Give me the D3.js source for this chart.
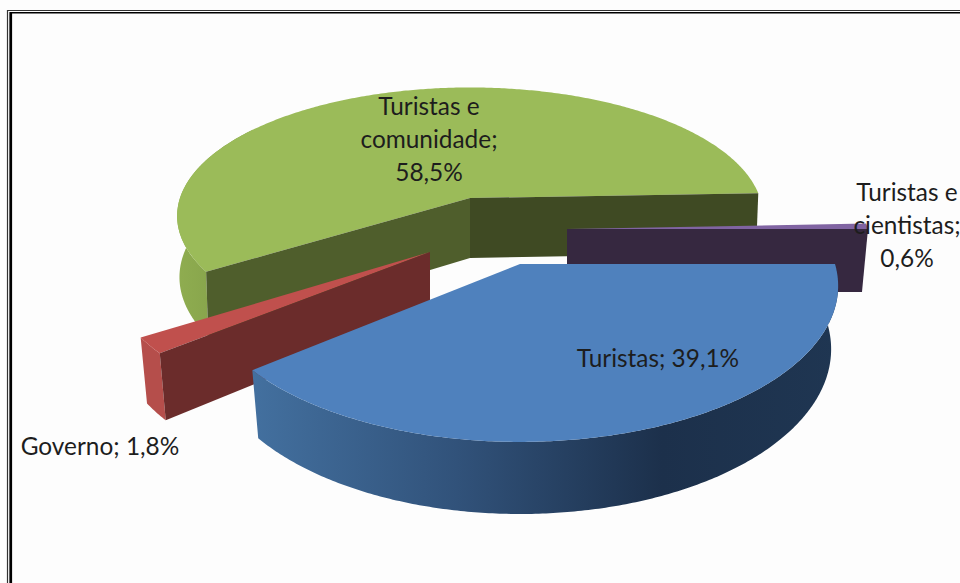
<!DOCTYPE html>
<html>
<head>
<meta charset="utf-8">
<script src="https://cdnjs.cloudflare.com/ajax/libs/d3/7.8.5/d3.min.js"></script>
<style>
    html, body { margin: 0; padding: 0; background: #fdfdfd; overflow: hidden; }
    svg { display: block; }
    text { font-family: Lato, "Open Sans", sans-serif; font-size: 24.4px; fill: #1d1d1d; }
</style>
</head>
<body>
<div id="chart"></div>
<script>
const categories = ['Turistas', 'Governo', 'Turistas e comunidade', 'Turistas e cientistas'];
const shares = [39.1, 1.8, 58.5, 0.6];
const labelLines = [
    ['Turistas; 39,1%'],
    ['Governo; 1,8%'],
    ['Turistas e', 'comunidade;', '58,5%'],
    ['Turistas e', 'cientistas;', '0,6%']
];

const width = 960;
const height = 583;

// screen geometry of each exploded slice: apex, radii, wall height, base shrink
const sliceGeometry = [
    { cx: 520, cy: 264, rx: 315, ry: 153, depth: 62, shrink: 0.978 },
    { cx: 430, cy: 252, rx: 318, ry: 146, depth: 61, shrink: 0.978 },
    { cx: 470, cy: 198, rx: 290, ry: 126, depth: 60, shrink: 0.992 },
    { cx: 567, cy: 229, rx: 301, ry: 145, depth: 63, shrink: 0.98 }
];
const sliceColors = [
    { top: '#4f81bd', wall: 'url(#wall-blue)', startFace: '#2a4566', endFace: '#2a4566' },
    { top: '#c0504d', wall: '#b54e4b', startFace: '#6b2c2b', endFace: '#6b2c2b' },
    { top: '#9bbb59', wall: 'url(#wall-green)', startFace: '#4f5e2c', endFace: '#3f4a23' },
    { top: '#8064a2', wall: '#6a5288', startFace: '#362840', endFace: '#362840' }
];
const labelAnchors = [
    { x: 658, y: 361 },
    { x: 100, y: 449 },
    { x: 429, y: 109 },
    { x: 907, y: 195 }
];

const perspective = 0.14;
const lineHeight = 33;

const svg = d3.select('#chart').append('svg')
    .attr('width', width)
    .attr('height', height);

const defs = svg.append('defs');

function addGradient(id, stops) {
    const gradient = defs.append('linearGradient').attr('id', id);
    stops.forEach(s => gradient.append('stop').attr('offset', s[0]).attr('stop-color', s[1]));
}

addGradient('wall-blue', [[0, '#43709f'], [0.35, '#31527a'], [0.7, '#1c304b'], [1, '#1f3652']]);
addGradient('wall-green', [[0, '#8fad50'], [1, '#7f9b47']]);

// frame of the original picture, open at right and bottom
svg.append('path').attr('d', `M7.5,${height}V10.5H${width}`)
    .attr('fill', 'none').attr('stroke', '#333').attr('stroke-width', 1.2);
svg.append('path').attr('d', `M10.5,${height}V12.7H${width}`)
    .attr('fill', 'none').attr('stroke', '#000').attr('stroke-width', 1.5);
svg.append('rect').attr('x', 9.5).attr('y', 12).attr('width', 2.6).attr('height', height - 12).attr('fill', '#000');

const pie = d3.pie().sort(null).startAngle(0).endAngle(2 * Math.PI);
const arcs = pie(shares);

function project(g, t, base) {
    const s = 1 / (1 - perspective * Math.sin(t));
    const shrink = base ? g.shrink : 1;
    return [
        g.cx + g.rx * Math.cos(t) * s * shrink,
        g.cy + g.ry * Math.sin(t) * s + (base ? g.depth * s : 0)
    ];
}

function apex(g, base) {
    return [g.cx, g.cy + (base ? g.depth : 0)];
}

function arcPoints(g, t0, t1, base) {
    const n = Math.max(2, Math.ceil(Math.abs(t1 - t0) / 0.01));
    return d3.range(n + 1).map(i => project(g, t0 + (t1 - t0) * i / n, base));
}

const polygon = d3.line().curve(d3.curveLinearClosed);

// back to front
const drawOrder = [2, 3, 1, 0];

drawOrder.forEach(i => {
    const g = sliceGeometry[i];
    const c = sliceColors[i];
    const a = arcs[i];
    const group = svg.append('g').attr('class', 'slice').attr('data-category', categories[i]);

    // outer wall; the far part ends up hidden under the top
    const w0 = a.startAngle;
    const w1 = Math.min(a.endAngle, Math.PI * 1.2);
    if (w1 > w0) {
        group.append('path')
            .attr('d', polygon(arcPoints(g, w0, w1, false).concat(arcPoints(g, w1, w0, true))))
            .attr('fill', c.wall);
    }

    group.append('path')
        .attr('d', polygon([apex(g, false)].concat(arcPoints(g, a.startAngle, a.endAngle, false))))
        .attr('fill', c.top);

    // cut faces, drawn only when turned to the viewer
    const faces = [];
    if (Math.sin(a.startAngle) > 0.1) faces.push([a.startAngle, c.startFace]);
    if (Math.sin(a.endAngle) <= 0.1 && Math.cos(a.endAngle) > 0) faces.push([a.endAngle, c.endFace]);
    faces.forEach(f => {
        group.append('path')
            .attr('d', polygon([
                apex(g, false), project(g, f[0], false),
                project(g, f[0], true), apex(g, true)
            ]))
            .attr('fill', f[1]);
    });
});

labelAnchors.forEach((p, i) => {
    const label = svg.append('text')
        .attr('text-anchor', 'middle')
        .attr('dominant-baseline', 'middle');
    labelLines[i].forEach((line, j) => {
        label.append('tspan').attr('x', p.x).attr('y', p.y + j * lineHeight).text(line);
    });
});
</script>
</body>
</html>
